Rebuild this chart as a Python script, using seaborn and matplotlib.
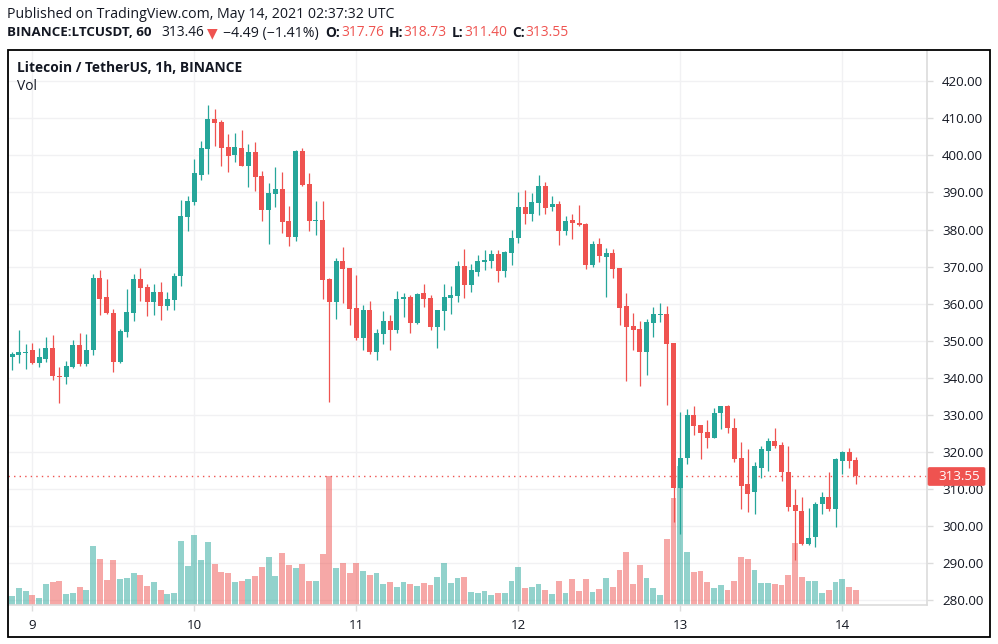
import matplotlib
matplotlib.use("Agg")
import matplotlib.pyplot as plt
from matplotlib.patches import FancyBboxPatch, Rectangle
import pandas as pd
import seaborn as sns

opens = [345.5,346.2,346.6,347.4,343.9,345.1,348.1,340.6,340.3,343.0,348.9,343.8,347.5,366.9,361.8,357.5,344.2,352.4,357.5,366.7,
364.5,360.4,363.1,359.4,361.0,367.5,383.4,387.4,394.7,401.7,409.8,409.0,402.3,400.0,402.0,397.1,400.9,394.4,385.3,389.6,
391.0,382.3,378.0,401.2,392.3,382.3,382.6,366.7,360.4,371.5,369.6,358.8,350.7,358.3,347.0,351.8,355.3,352.9,361.2,361.8,
354.8,362.8,361.5,353.7,358.0,361.5,362.0,370.1,365.0,368.5,371.2,371.5,373.4,368.8,373.6,377.7,386.0,384.2,387.1,391.7,
386.0,386.9,379.6,382.5,381.7,381.5,370.4,376.1,372.6,373.6,369.6,359.3,353.9,353.1,346.9,354.7,356.9,357.2,349.3,310.2,
318.3,329.9,327.2,325.3,323.9,330.4,332.3,326.6,318.5,311.3,309.1,315.8,320.4,322.9,321.8,314.5,305.6,304.2,295.3,297.2,
305.9,308.0,304.5,317.7,319.9,317.76]
highs = [347.0,353.0,349.0,349.3,348.1,351.0,351.6,343.0,344.5,350.1,352.1,351.8,368.0,369.1,366.7,358.6,353.2,364.0,368.0,369.6,
365.3,365.3,365.8,363.1,368.3,388.0,389.0,399.0,403.9,413.6,412.5,409.5,405.8,406.0,406.9,403.0,403.6,395.8,392.6,396.9,
395.5,386.3,401.5,402.0,395.3,387.7,387.7,366.9,372.3,375.3,369.7,367.7,359.6,360.6,353.2,358.0,356.9,363.4,362.8,362.3,
362.9,365.3,362.3,358.3,365.3,364.7,371.5,374.7,370.7,373.1,374.4,374.4,374.4,374.2,379.8,390.1,390.6,389.8,394.7,392.8,
389.0,387.7,383.6,384.2,386.6,381.7,376.9,377.7,375.0,374.7,369.7,362.8,357.4,355.3,355.8,359.1,360.1,359.3,349.5,330.7,
331.5,332.3,327.2,328.5,331.8,332.3,332.8,329.1,322.6,320.7,317.2,321.5,323.9,326.4,322.6,321.5,309.9,307.8,304.9,306.4,
309.1,314.5,318.3,320.2,321.0,318.73]
lows = [342.2,344.0,342.5,343.6,343.0,344.3,339.3,333.2,338.3,342.7,343.2,343.2,346.2,356.9,357.2,341.6,344.0,351.0,355.3,360.7,
356.7,357.0,355.6,358.3,358.3,364.8,379.6,386.6,393.4,395.0,402.5,397.1,395.5,398.2,397.1,391.5,390.4,382.3,376.1,386.1,
379.1,375.6,376.9,391.7,379.6,378.5,361.3,333.5,355.9,360.2,354.2,350.2,347.5,346.4,344.8,349.1,347.5,352.1,356.3,352.1,
354.5,359.1,352.9,348.0,352.9,357.2,360.4,361.5,363.1,367.4,369.0,369.6,365.8,367.2,370.4,376.3,381.5,382.3,383.9,384.2,
385.0,375.8,378.5,377.4,380.9,369.3,369.9,371.2,361.8,366.9,354.2,339.2,347.5,337.8,340.7,351.0,355.0,332.6,301.0,297.8,
316.9,324.5,318.0,321.0,323.9,326.1,325.0,317.2,304.5,303.7,303.2,313.1,315.0,321.2,312.1,304.2,290.9,294.9,294.9,294.5,
303.2,304.2,299.9,314.2,315.8,311.40]
closes = [346.3,347.1,347.1,343.9,345.5,348.1,340.6,340.3,343.2,348.9,343.8,347.5,366.9,361.3,357.5,344.2,352.6,357.8,366.7,364.2,
360.4,363.1,359.4,361.3,367.5,383.7,387.7,395.2,402.0,409.8,408.7,402.0,399.8,402.3,397.1,400.9,394.2,385.3,389.9,391.0,
382.1,378.0,401.2,392.0,382.3,382.6,366.4,360.4,371.5,369.4,358.6,350.7,358.3,347.0,352.1,355.3,352.9,361.3,361.7,354.8,
362.6,361.2,353.7,358.3,361.8,362.3,370.1,365.0,369.0,371.5,371.7,373.4,368.8,373.9,377.7,386.0,384.2,387.4,391.7,385.8,
386.9,379.6,382.3,381.7,381.2,370.4,376.1,372.8,373.6,369.3,358.8,353.7,352.9,346.9,355.0,357.2,357.2,349.1,310.2,318.5,
329.9,326.9,325.0,323.9,330.4,332.3,326.4,318.0,310.7,308.8,316.1,320.7,322.9,321.5,314.5,305.3,304.0,295.1,296.9,306.1,
307.8,304.5,318.0,319.9,317.7,313.55]
volumes = [28,52,43,31,22,64,70,73,34,37,55,46,178,139,76,136,79,82,97,91,
58,70,46,34,37,193,118,211,136,190,124,100,97,70,73,79,88,115,145,88,
157,121,112,124,73,73,154,388,112,127,97,127,103,91,97,64,70,55,70,64,
58,67,61,84,126,66,81,84,39,36,42,30,36,36,72,114,51,54,63,45,
33,72,36,78,42,78,39,48,81,54,105,159,63,120,81,51,30,198,321,417,
159,99,102,69,51,60,45,72,144,138,105,66,66,63,60,90,186,84,72,72,
36,45,69,78,54,45]
price_ticks = [280,290,300,310,320,330,340,350,360,370,380,390,400,410,420]
day_labels = ["9","10","11","12","13","14"]
day_hours = [3,27,51,75,99,123]
last_price = 313.55

GREEN = "#26a69a"
RED = "#ef5350"
INK = "#131722"
GRID = "#f1f1f3"
SEP = "#dcdcdc"
W, H = 998, 644
FONT = "Open Sans"

sns.set_theme(style="white")
plt.rcParams["font.family"] = [FONT, "DejaVu Sans"]

df = pd.DataFrame({"hour": range(len(opens)), "open": opens, "high": highs,
                   "low": lows, "close": closes, "volume": volumes})
df["dir"] = ["up" if c >= o else "down" for o, c in zip(df["open"], df["close"])]
df["color"] = df["dir"].map({"up": GREEN, "down": RED})

fig = plt.figure(figsize=(W / 100, H / 100), dpi=100, facecolor="white")

def box(l, t, r, b):
    return [l / W, 1 - b / H, (r - l) / W, (b - t) / H]

PL, PT, PR, PB = 7.5, 49.5, 927.3, 605.3
ax_vol = fig.add_axes(box(PL, PT, PR, PB), zorder=1)
ax = fig.add_axes(box(PL, PT, PR, PB), zorder=2)
ax.patch.set_alpha(0)

xlim = (-0.674, 135.6)
ylim = (278.66, 428.55)

# volume
sns.barplot(data=df, x="hour", y="volume", hue="dir", palette={"up": GREEN, "down": RED},
            hue_order=["up", "down"], native_scale=True, dodge=False, width=0.88,
            errorbar=None, legend=False, saturation=1, alpha=0.5, linewidth=0, ax=ax_vol)
ax_vol.set_xlim(xlim)
ax_vol.set_ylim(0, (PB - PT) * 3)
ax_vol.set_xlabel(""); ax_vol.set_ylabel("")
ax_vol.set_yticks([]); ax_vol.set_xticks(day_hours)
ax_vol.set_xticklabels([])
ax_vol.tick_params(axis="x", length=0)
ax_vol.grid(True, axis="x", color=GRID, lw=1)
ax_vol.set_axisbelow(True)
for s in ax_vol.spines.values():
    s.set_visible(False)
# horizontal price grid drawn below volume bars
for p in price_ticks:
    ax_vol.plot(xlim, [(p - ylim[0]) / (ylim[1] - ylim[0]) * (PB - PT) * 3] * 2,
                color=GRID, lw=1, zorder=0.5)

# candles
ax.vlines(df["hour"], df["low"], df["high"], colors=df["color"], lw=0.9, zorder=3)
body_low = df[["open", "close"]].min(axis=1)
body_h = (df["close"] - df["open"]).abs()
ax.bar(df["hour"], body_h, bottom=body_low, width=0.74, color=df["color"], linewidth=0, zorder=4)
ax.axhline(last_price, color=RED, lw=1, ls=(0, (1, 3)), zorder=2)

ax.set_xlim(xlim)
ax.set_ylim(ylim)
ax.yaxis.tick_right()
ax.set_yticks(price_ticks)
ax.set_yticklabels([f"{p:.2f}" for p in price_ticks], fontsize=9.6, color=INK)
ax.set_xticks(day_hours)
ax.set_xticklabels(day_labels, fontsize=9.6, color=INK)
ax.tick_params(axis="y", length=4, width=1, color=SEP, pad=6.5, right=True)
ax.tick_params(axis="x", length=4, width=1, color=SEP, pad=6, bottom=True)
for name, s in ax.spines.items():
    s.set_visible(name in ("right", "bottom"))
    s.set_color(SEP)
    s.set_linewidth(1.2)

# outer frame
fig.add_artist(Rectangle((7.5 / W, 1 - 636.5 / H), (990 - 7.5) / W, (636.5 - 49.5) / H,
                         transform=fig.transFigure, fill=False, edgecolor="black", lw=1.3, zorder=5))

def t(x, y, s, **kw):
    kw.setdefault("fontsize", 9.6)
    kw.setdefault("color", INK)
    kw.setdefault("va", "center")
    return fig.text(x / W, 1 - y / H, s, zorder=10, **kw)

# last price label
fig.add_artist(FancyBboxPatch((928 / W, 1 - 485.5 / H), 57 / W, 18 / H,
                              boxstyle="round,pad=0,rounding_size=0.002",
                              transform=fig.transFigure, facecolor=RED, edgecolor=RED, lw=0.5, zorder=9))
t(938.5, 476.5, f"{last_price:.2f}", color="white", fontweight="medium")

# headers
t(7, 14, "Published on TradingView.com, May 14, 2021 02:37:32 UTC", fontsize=10.13)
t(7, 33, "BINANCE:LTCUSDT, 60", fontweight="bold", fontsize=9.6)
t(161, 33, "313.46", fontsize=9.9)
t(207, 33, "▼", color=RED, family="DejaVu Sans", fontsize=10)
t(223, 33, "−4.49 (−1.41%)", fontsize=10.2)
for lx, lab, vx, val in [(325, "O:", 341, "317.76"), (389, "H:", 403.5, "318.73"),
                         (451.5, "L:", 464, "311.40"), (512, "C:", 525, "313.55")]:
    t(lx, 33, lab, fontweight="bold", fontsize=9.9)
    t(vx, 33, val, color=RED, fontsize=9.9)
t(17, 68, "Litecoin / TetherUS, 1h, BINANCE", fontweight="bold", fontsize=9.9)
t(17, 87, "Vol", fontsize=9.9)

fig.savefig("out.png", dpi=100)
